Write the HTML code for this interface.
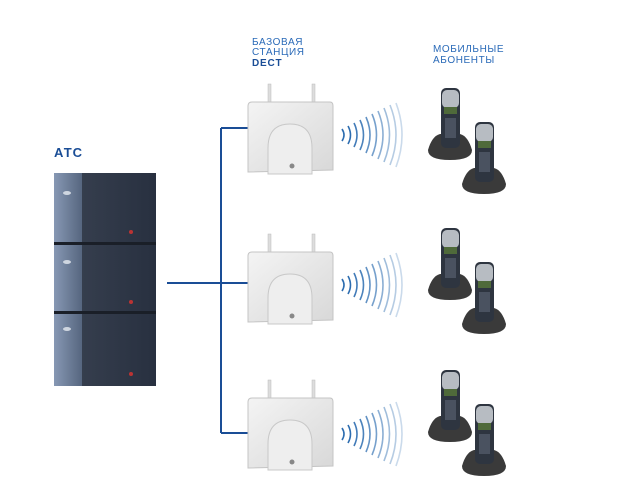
<!DOCTYPE html>
<html><head><meta charset="utf-8"><style>
body{margin:0;background:#fff;width:618px;height:497px;overflow:hidden}
</style></head><body>
<svg width="618" height="497" viewBox="0 0 618 497" xmlns="http://www.w3.org/2000/svg">
<defs>
<linearGradient id="bs" x1="0" y1="0" x2="1" y2="1"><stop offset="0" stop-color="#f4f4f4"/><stop offset="1" stop-color="#d8d8d8"/></linearGradient>
<linearGradient id="pb" x1="0" y1="0" x2="1" y2="0"><stop offset="0" stop-color="#8798b4"/><stop offset="1" stop-color="#56667f"/></linearGradient>
<linearGradient id="pd" x1="0" y1="0" x2="1" y2="0"><stop offset="0" stop-color="#3a4352"/><stop offset="1" stop-color="#283040"/></linearGradient>
<g id="station">
<rect x="20" y="-18" width="3" height="22" fill="#ddd" stroke="#bbb" stroke-width=".5"/>
<rect x="64" y="-18" width="3" height="22" fill="#ddd" stroke="#bbb" stroke-width=".5"/>
<path d="M0 4 Q0 0 4 0 L82 0 Q85 0 85 4 L85 68 L0 70 Z" fill="url(#bs)" stroke="#c4c4c4"/>
<path d="M20 72 L20 46 Q20 22 42 22 Q64 22 64 46 L64 72 Z" fill="#eee" stroke="#c8c8c8"/>
<circle cx="44" cy="64" r="2.5" fill="#888"/>
</g>
<g id="waves" fill="none" stroke="#2d6db0" stroke-width="1.6">
<path d="M0 -6 Q4 0 0 6"/><path d="M6 -9 Q11 0 6 9"/><path d="M12 -12 Q18 0 12 12" opacity=".9"/>
<path d="M18 -15 Q25 0 18 15" opacity=".85"/><path d="M24 -18 Q32 0 24 18" opacity=".75"/>
<path d="M30 -21 Q39 0 30 21" opacity=".65"/><path d="M36 -24 Q46 0 36 24" opacity=".55"/>
<path d="M42 -27 Q53 0 42 27" opacity=".45"/><path d="M48 -30 Q60 0 48 30" opacity=".35"/>
<path d="M54 -32 Q66 0 54 32" opacity=".25"/>
</g>
<g id="phone">
<path d="M-2 62 Q2 48 10 46 L30 46 Q38 48 42 62 Q42 72 20 72 Q-2 72 -2 62Z" fill="#3a3a3a"/>
<rect x="11" y="0" width="19" height="60" rx="5" fill="#2e3540"/>
<rect x="12" y="2" width="17" height="18" rx="5" fill="#b7bcc2"/>
<rect x="14" y="19" width="13" height="7" fill="#4f6a3a"/>
<rect x="15" y="30" width="11" height="20" fill="#4a5260"/>
</g>
<g id="pair"><use href="#phone"/><use href="#phone" x="34" y="34"/></g>
</defs>
<text x="252" y="45" font-family="Liberation Sans,sans-serif" font-size="10" fill="#2a6ab8" letter-spacing=".6">БАЗОВАЯ</text>
<text x="252" y="55" font-family="Liberation Sans,sans-serif" font-size="10" fill="#2a6ab8" letter-spacing=".6">СТАНЦИЯ</text>
<text x="252" y="66" font-family="Liberation Sans,sans-serif" font-size="10" font-weight="bold" fill="#1a4d96" letter-spacing=".8">DECT</text>
<text x="433" y="52" font-family="Liberation Sans,sans-serif" font-size="10" fill="#2a6ab8" letter-spacing=".6">МОБИЛЬНЫЕ</text>
<text x="433" y="63" font-family="Liberation Sans,sans-serif" font-size="10" fill="#2a6ab8" letter-spacing=".6">АБОНЕНТЫ</text>
<text x="54" y="157" font-family="Liberation Sans,sans-serif" font-size="13" font-weight="bold" fill="#1a4d96" letter-spacing="1">АТС</text>
<g>
<rect x="54" y="173" width="102" height="213" fill="url(#pd)"/>
<rect x="54" y="173" width="28" height="213" fill="url(#pb)"/>
<rect x="54" y="242" width="102" height="3" fill="#1a1f28"/>
<rect x="54" y="311" width="102" height="3" fill="#1a1f28"/>
<g fill="#cfd6e0"><ellipse cx="67" cy="193" rx="4" ry="2"/><ellipse cx="67" cy="262" rx="4" ry="2"/><ellipse cx="67" cy="329" rx="4" ry="2"/></g>
<g fill="#b33"><circle cx="131" cy="232" r="2"/><circle cx="131" cy="302" r="2"/><circle cx="131" cy="374" r="2"/></g>
</g>
<g stroke="#1a4d96" stroke-width="2" fill="none">
<line x1="167" y1="283" x2="221" y2="283"/>
<line x1="221" y1="128" x2="221" y2="433"/>
<line x1="221" y1="128" x2="249" y2="128"/>
<line x1="221" y1="283" x2="249" y2="283"/>
<line x1="221" y1="433" x2="249" y2="433"/>
</g>
<use href="#station" x="248" y="102"/>
<use href="#station" x="248" y="252"/>
<use href="#station" x="248" y="398"/>
<use href="#waves" x="342" y="135"/>
<use href="#waves" x="342" y="285"/>
<use href="#waves" x="342" y="434"/>
<use href="#pair" x="430" y="88"/>
<use href="#pair" x="430" y="228"/>
<use href="#pair" x="430" y="370"/>
</svg>
</body></html>
